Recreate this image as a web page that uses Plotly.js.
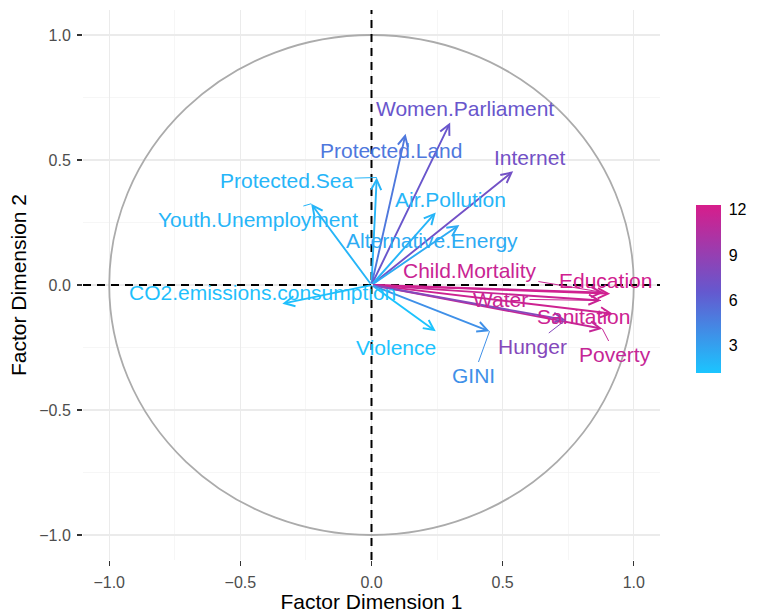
<!DOCTYPE html>
<html>
<head>
<meta charset="utf-8">
<script src="https://cdn.plot.ly/plotly-3.0.1.min.js"></script>
<style>
  html, body { margin: 0; padding: 0; background: #ffffff; }
  #chart { width: 757px; height: 613px; }
</style>
</head>
<body>
<div id="chart"></div>
<script>
// ---- data ----
const variables = ["Protected.Sea", "Protected.Land", "Women.Parliament", "Internet",
  "Air.Pollution", "Alternative.Energy", "Youth.Unemployment", "CO2.emissions.consumption",
  "Child.Mortality", "Education", "Water", "Sanitation", "Poverty", "Hunger",
  "Violence", "GINI"];
const dim1 = [0.02, 0.13, 0.30, 0.54, 0.245, 0.335, -0.23, -0.34,
  0.885, 0.91, 0.875, 0.92, 0.88, 0.74, 0.245, 0.45];
const dim2 = [0.43, 0.605, 0.65, 0.455, 0.29, 0.24, 0.325, -0.075,
  -0.03, -0.035, -0.062, -0.115, -0.175, -0.14, -0.185, -0.185];
const contrib = [2.0, 5.0, 6.8, 7.3, 2.0, 2.5, 2.0, 1.5,
  11.6, 12.0, 11.6, 11.8, 11.4, 8.2, 1.3, 3.8];
// label positions (repelled text)
const labelX = [-0.324, 0.076, 0.358, 0.604, 0.301, 0.231, -0.432, -0.417,
  0.375, 0.892, 0.492, 0.81, 0.93, 0.612, 0.093, 0.39];
const labelY = [0.42, 0.54, 0.708, 0.512, 0.344, 0.18, 0.264, -0.028,
  0.06, 0.02, -0.056, -0.124, -0.276, -0.244, -0.248, -0.36];
const hasSegment = [true, false, false, false, false, false, true, false,
  true, false, true, false, true, true, false, true];
const colorTicks = [3, 6, 9, 12];

// ---- colour scale ----
const cmin = 1.2, cmax = 12.3;
const colorscale = [[0, "#1BC5FF"], [0.48, "#6459CF"], [1, "#D71D8B"]];
function hexToRgb(h) { return [parseInt(h.slice(1,3),16), parseInt(h.slice(3,5),16), parseInt(h.slice(5,7),16)]; }
function colorFor(v) {
  const t = Math.max(0, Math.min(1, (v - cmin) / (cmax - cmin)));
  for (let i = 0; i < colorscale.length - 1; i++) {
    const [t0, c0] = colorscale[i], [t1, c1] = colorscale[i + 1];
    if (t <= t1) {
      const f = (t - t0) / (t1 - t0);
      const a = hexToRgb(c0), b = hexToRgb(c1);
      const c = a.map((x, k) => Math.round(x + (b[k] - x) * f));
      return "rgb(" + c.join(",") + ")";
    }
  }
  return colorscale[colorscale.length - 1][1];
}

const FONT = "Liberation Sans, Arial, Helvetica, sans-serif";
const annotations = [];
// arrows from origin to loadings
variables.forEach((v, i) => {
  annotations.push({
    x: dim1[i], y: dim2[i], ax: 0, ay: 0,
    xref: "x", yref: "y", axref: "x", ayref: "y",
    text: "", showarrow: true, arrowhead: 5, arrowsize: 1.05,
    arrowwidth: 1.9, arrowcolor: colorFor(contrib[i]), standoff: 0
  });
});
// labels
variables.forEach((v, i) => {
  const col = colorFor(contrib[i]);
  if (hasSegment[i]) {
    annotations.push({
      x: dim1[i], y: dim2[i], ax: labelX[i], ay: labelY[i],
      xref: "x", yref: "y", axref: "x", ayref: "y",
      text: v, showarrow: true, arrowhead: 0, arrowwidth: 1,
      arrowcolor: col, standoff: 0,
      font: { family: FONT, size: 21, color: col }
    });
  } else {
    annotations.push({
      x: labelX[i], y: labelY[i], xref: "x", yref: "y",
      text: v, showarrow: false,
      font: { family: FONT, size: 21, color: col }
    });
  }
});

const traces = [{
  type: "scatter", mode: "markers", x: dim1, y: dim2,
  hoverinfo: "skip", showlegend: false,
  marker: {
    size: 1, opacity: 0, color: contrib, cmin: cmin, cmax: cmax,
    colorscale: colorscale, showscale: true,
    colorbar: {
      thickness: 25, thicknessmode: "pixels",
      len: 168, lenmode: "pixels",
      x: 1.062, xanchor: "left", xpad: 0,
      y: 0.4927, yanchor: "middle", ypad: 0,
      outlinewidth: 0,
      tickvals: colorTicks, ticktext: colorTicks.map(String),
      ticks: "outside", ticklen: 5, tickcolor: "#ffffff", tickwidth: 1,
      tickfont: { family: FONT, size: 16, color: "#000000" }
    }
  }
}];

const axisCommon = {
  range: [-1.1, 1.1], zeroline: false, showline: false,
  tickvals: [-1, -0.5, 0, 0.5, 1],
  ticktext: ["\u22121.0", "\u22120.5", "0.0", "0.5", "1.0"],
  ticks: "outside", ticklen: 5, tickwidth: 1.2, tickcolor: "#333333",
  ticklabelstandoff: 3,
  tickfont: { family: FONT, size: 16, color: "#4d4d4d" },
  showgrid: true, gridcolor: "#ebebeb", gridwidth: 1.2,
  minor: { tickvals: [-0.75, -0.25, 0.25, 0.75], showgrid: true, gridcolor: "#f2f2f2", gridwidth: 0.7, ticks: "" },
  fixedrange: true
};

const layout = {
  width: 757, height: 613,
  margin: { l: 83, r: 94, t: 10, b: 53 },
  paper_bgcolor: "#ffffff", plot_bgcolor: "#ffffff",
  showlegend: false,
  xaxis: Object.assign({}, axisCommon, {
    title: { text: "Factor Dimension 1", font: { family: FONT, size: 21, color: "#000000" }, standoff: 4 }
  }),
  yaxis: Object.assign({}, axisCommon, {
    title: { text: "Factor Dimension 2", font: { family: FONT, size: 21, color: "#000000" }, standoff: 6 }
  }),
  shapes: [
    { type: "circle", xref: "x", yref: "y", x0: -1, x1: 1, y0: -1, y1: 1,
      line: { color: "#ababab", width: 1.8 }, layer: "above" },
    { type: "line", xref: "x", yref: "paper", x0: 0, x1: 0, y0: 0, y1: 1,
      line: { color: "#000000", width: 2, dash: "8px,6px" }, layer: "above" },
    { type: "line", xref: "paper", yref: "y", x0: 0, x1: 1, y0: 0, y1: 0,
      line: { color: "#000000", width: 2, dash: "8px,6px" }, layer: "above" }
  ],
  annotations: annotations
};

Plotly.newPlot("chart", traces, layout, { displayModeBar: false, staticPlot: true });
</script>
</body>
</html>
